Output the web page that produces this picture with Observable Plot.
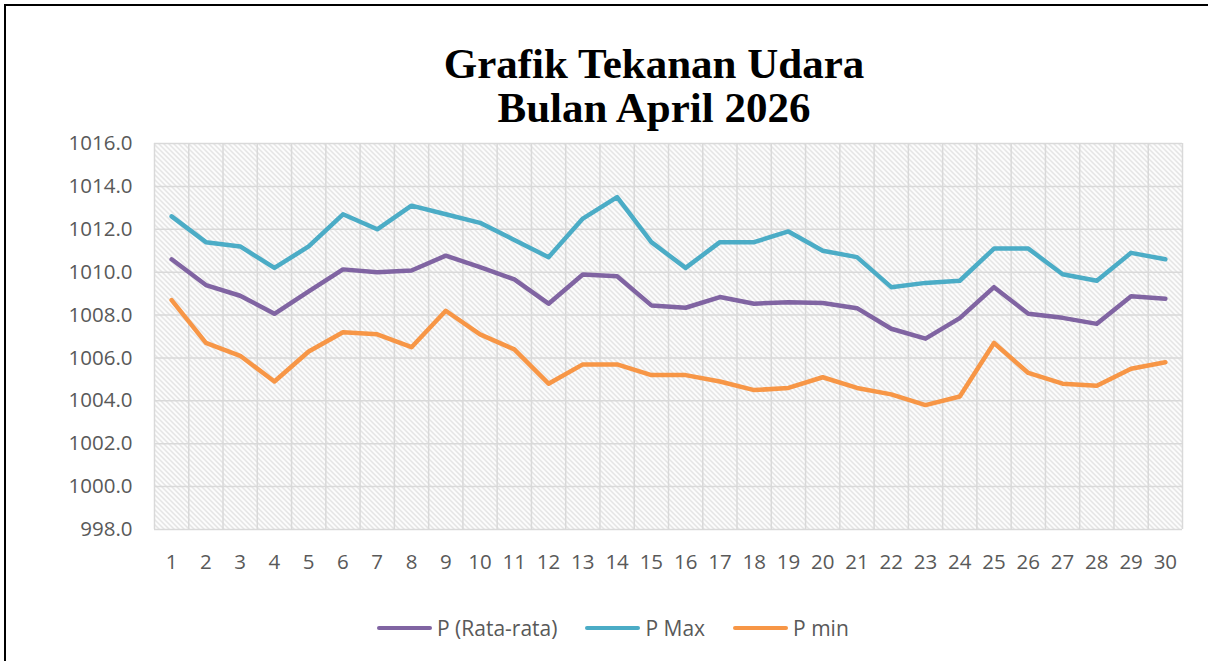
<!DOCTYPE html>
<html>
<head>
<meta charset="utf-8">
<script src="https://cdn.jsdelivr.net/npm/d3@7"></script>
<script src="https://cdn.jsdelivr.net/npm/@observablehq/plot@0.6"></script>
<style>
  body { margin: 0; background: #fff; }
  #wrap { position: relative; width: 1208px; height: 661px; overflow: hidden; background: #fff; }
  #border { position: absolute; left: 4px; top: 4px; width: 1300px; height: 700px; border: 2px solid #000; box-sizing: border-box; }
  #title { position: absolute; left: 0; top: 42px; width: 1308px; text-align: center;
           font-family: "Liberation Serif", serif; font-weight: bold; font-size: 43px; line-height: 44px; color: #000; }
  #chart { position: absolute; left: 0; top: 130px; }
  #legend { position: absolute; left: 377px; top: 614px; display: flex; align-items: center; gap: 28px;
            font-family: "Open Sans", sans-serif; font-size: 21px; color: #595959; }
  .item { display: flex; align-items: center; }
  .sw { width: 55px; height: 4.5px; border-radius: 3px; margin-right: 5px; }
</style>
</head>
<body>
<div id="wrap">
  <div id="border"></div>
  <div id="title">Grafik Tekanan Udara<br>Bulan April 2026</div>
  <div id="chart"></div>
  <div id="legend"></div>
</div>
<script>
const days = [1,2,3,4,5,6,7,8,9,10,11,12,13,14,15,16,17,18,19,20,21,22,23,24,25,26,27,28,29,30];
const pAvg = [1010.6,1009.4,1008.9,1008.06,1009.1,1010.13,1010.0,1010.08,1010.77,1010.23,1009.66,1008.53,1009.89,1009.81,1008.45,1008.34,1008.84,1008.53,1008.6,1008.56,1008.32,1007.36,1006.9,1007.86,1009.3,1008.06,1007.87,1007.59,1008.88,1008.76];
const pMax = [1012.6,1011.4,1011.2,1010.2,1011.2,1012.7,1012.0,1013.1,1012.7,1012.3,1011.5,1010.7,1012.5,1013.5,1011.4,1010.2,1011.4,1011.4,1011.9,1011.0,1010.7,1009.3,1009.5,1009.6,1011.1,1011.1,1009.9,1009.6,1010.9,1010.6];
const pMin = [1008.7,1006.7,1006.1,1004.9,1006.3,1007.2,1007.1,1006.5,1008.2,1007.1,1006.4,1004.8,1005.7,1005.7,1005.2,1005.2,1004.9,1004.5,1004.6,1005.1,1004.6,1004.3,1003.8,1004.2,1006.7,1005.3,1004.8,1004.7,1005.5,1005.8];
const yTicks = [998,1000,1002,1004,1006,1008,1010,1012,1014,1016];
const seriesNames = ["P (Rata-rata)", "P Max", "P min"];
const seriesColors = ["#8064A2", "#4BACC6", "#F79646"];
const seriesValues = [pAvg, pMax, pMin];

const data = seriesNames.flatMap((name, i) => days.map((d, j) => ({day: d, value: seriesValues[i][j], series: name})));
const edges = days.map(d => d - 0.5).concat([days[days.length - 1] + 0.5]);

const plot = Plot.plot({
  width: 1208,
  height: 449,
  marginTop: 13,
  marginLeft: 154,
  marginRight: 26,
  marginBottom: 50,
  style: {fontFamily: "'Open Sans', sans-serif", fontSize: "20.5px", color: "#595959", background: "transparent", overflow: "visible"},
  x: {type: "linear", domain: [edges[0], edges[edges.length - 1]]},
  y: {domain: [yTicks[0], yTicks[yTicks.length - 1]]},
  color: {domain: seriesNames, range: seriesColors},
  marks: [
    Plot.frame({fill: "url(#hatch)", stroke: null}),
    Plot.ruleY(yTicks, {stroke: "#d9d9d9", strokeWidth: 1.5}),
    Plot.ruleX(edges, {stroke: "#d9d9d9", strokeWidth: 1.5}),
    Plot.axisX({ticks: days, tickSize: 0, tickPadding: 25, tickFormat: d => String(d), label: null}),
    Plot.axisY({ticks: yTicks, tickSize: 0, tickPadding: 22, tickFormat: d => d.toFixed(1), label: null}),
    Plot.line(data, {x: "day", y: "value", z: "series", stroke: "series", strokeWidth: 4.5, strokeLinejoin: "round", strokeLinecap: "round"})
  ]
});

const ns = "http://www.w3.org/2000/svg";
const defs = document.createElementNS(ns, "defs");
const pat = document.createElementNS(ns, "pattern");
pat.setAttribute("id", "hatch");
pat.setAttribute("patternUnits", "userSpaceOnUse");
pat.setAttribute("width", "5");
pat.setAttribute("height", "5");
const bg = document.createElementNS(ns, "rect");
bg.setAttribute("width", "5"); bg.setAttribute("height", "5"); bg.setAttribute("fill", "#ffffff");
pat.appendChild(bg);
const hp = document.createElementNS(ns, "path");
hp.setAttribute("d", "M0,0L5,5M-1,4L1,6M4,-1L6,1");
hp.setAttribute("stroke", "#d6d6d6");
hp.setAttribute("stroke-width", "1.1");
pat.appendChild(hp);
defs.appendChild(pat);
plot.insertBefore(defs, plot.firstChild);
document.getElementById("chart").appendChild(plot);

const legend = document.getElementById("legend");
seriesNames.forEach((name, i) => {
  const item = document.createElement("div");
  item.className = "item";
  const sw = document.createElement("div");
  sw.className = "sw";
  sw.style.background = seriesColors[i];
  const label = document.createElement("span");
  label.textContent = name;
  item.appendChild(sw);
  item.appendChild(label);
  legend.appendChild(item);
});
</script>
</body>
</html>
